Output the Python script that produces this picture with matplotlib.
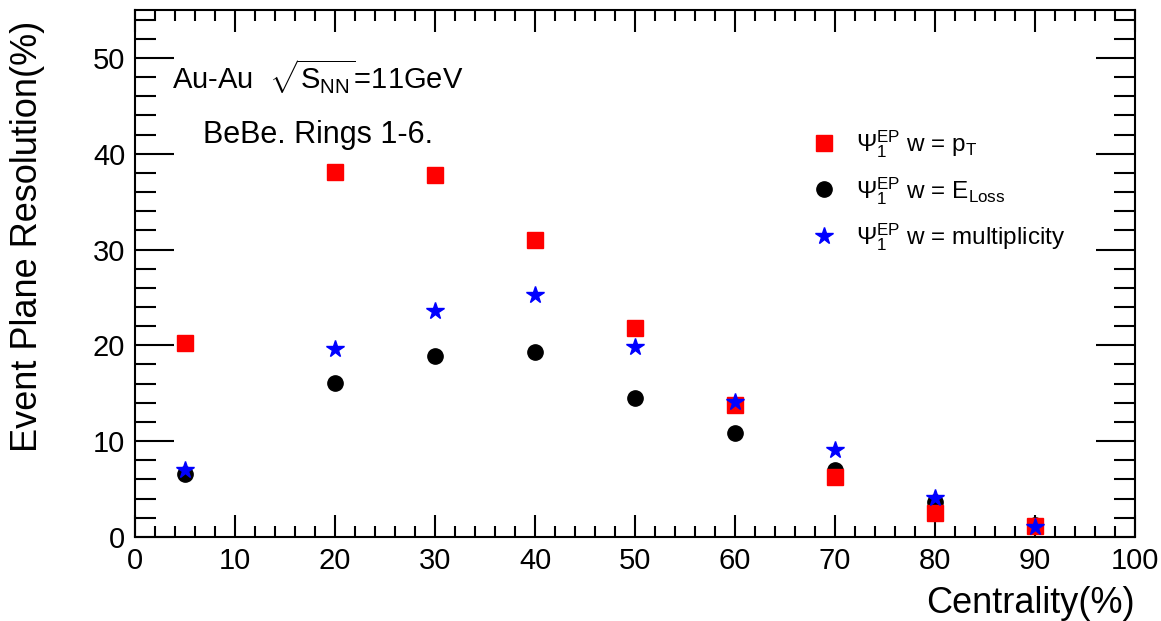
import matplotlib
matplotlib.use("Agg")
import matplotlib.pyplot as plt
from matplotlib.ticker import MultipleLocator

plt.rcParams['font.family'] = ['Liberation Sans', 'DejaVu Sans']
plt.rcParams['mathtext.fontset'] = 'custom'
plt.rcParams['mathtext.rm'] = 'Liberation Sans'
plt.rcParams['mathtext.it'] = 'Liberation Sans:italic'
plt.rcParams['mathtext.sf'] = 'Liberation Sans'

# centrality bins (%)
centrality = [5, 20, 30, 40, 50, 60, 70, 80, 90]
# event plane resolution (%) for each weighting
res_pt = [20.25, 38.1, 37.8, 31.0, 21.8, 13.8, 6.3, 2.5, 1.15]
res_eloss = [6.6, 16.1, 18.9, 19.3, 14.5, 10.9, 7.0, 3.7, 1.2]
res_mult = [7.0, 19.6, 23.6, 25.3, 19.8, 14.1, 9.1, 4.1, 1.0]

labels = [r'$\Psi_1^{\mathrm{EP}}$ w = p$_{\mathrm{T}}$',
          r'$\Psi_1^{\mathrm{EP}}$ w = E$_{\mathrm{Loss}}$',
          r'$\Psi_1^{\mathrm{EP}}$ w = multiplicity']

fig = plt.figure(figsize=(11.61, 6.21), dpi=100)
ax = fig.add_axes([0.1163, 0.1353, 0.8613, 0.8487])

h_e, = ax.plot(centrality, res_eloss, 'o', color='black', markersize=11, linestyle='none')
h_p, = ax.plot(centrality, res_pt, 's', color='#ff0000', markersize=12, linestyle='none')
h_m, = ax.plot(centrality, res_mult, '*', color='#0000ff', markersize=13, linestyle='none')

ax.set_xlim(0, 100)
ax.set_ylim(0, 55)
ax.xaxis.set_major_locator(MultipleLocator(10))
ax.xaxis.set_minor_locator(MultipleLocator(2))
ax.yaxis.set_major_locator(MultipleLocator(10))
ax.yaxis.set_minor_locator(MultipleLocator(2))
ax.tick_params(which='both', direction='in', top=True, right=True, width=1.5,
               labelsize=21, pad=7)
ax.tick_params(which='major', length=16)
ax.tick_params(axis='y', which='major', length=28)
ax.tick_params(which='minor', length=8)
ax.tick_params(axis='y', which='minor', length=15)
for s in ax.spines.values():
    s.set_linewidth(1.5)

ax.set_xlabel('Centrality(%)', fontsize=26, loc='right', labelpad=8)
ax.set_ylabel('Event Plane Resolution(%)', fontsize=26, loc='top')
ax.yaxis.set_label_coords(-0.09, 0.98)

ax.text(0.037, 0.85, r'Au-Au  $\sqrt{\mathrm{S_{NN}}}$=11GeV', transform=ax.transAxes,
        fontsize=21, va='baseline')
ax.text(0.068, 0.748, 'BeBe. Rings 1-6.', transform=ax.transAxes, fontsize=22,
        va='baseline')

ax.legend([h_p, h_e, h_m], labels, loc='upper left', bbox_to_anchor=(0.665, 0.775),
          frameon=False, fontsize=17.5, handletextpad=0.3, labelspacing=0.6,
          borderpad=0, borderaxespad=0, markerscale=1.0, numpoints=1)

fig.savefig('out.png', dpi=100)
